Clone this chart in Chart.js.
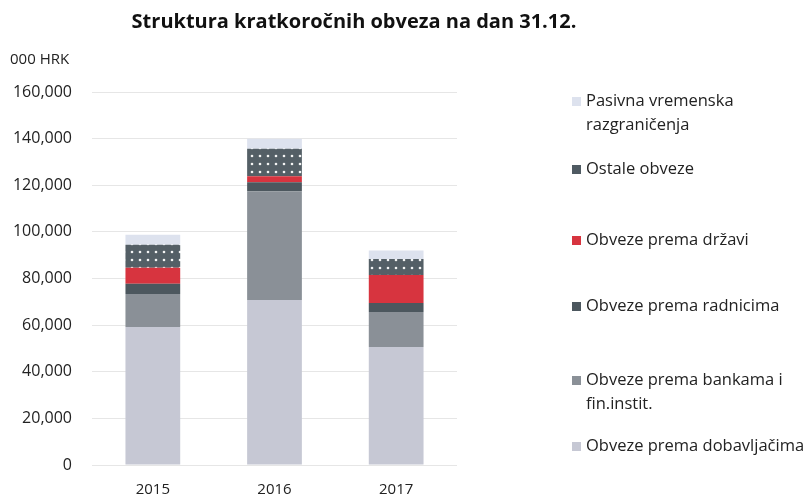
<!DOCTYPE html>
<html>
<head>
<meta charset="utf-8">
<script src="https://cdn.jsdelivr.net/npm/chart.js@4"></script>
<style>
  body { margin: 0; background: #fff; }
  #wrap { width: 805px; height: 496px; position: relative; }
</style>
</head>
<body>
<div id="wrap"><canvas id="chart" width="805" height="496"></canvas></div>
<script>
// values in 000 HRK
const years = ['2015', '2016', '2017'];
const dobavljaci = [59200, 70800, 50600];
const banke = [14200, 46600, 15000];
const radnici = [4300, 3900, 3900];
const drzava = [6900, 2600, 12000];
const ostale = [9900, 11800, 6900];
const pasivna = [4300, 4300, 3600];
const yTicks = [0, 20000, 40000, 60000, 80000, 100000, 120000, 140000, 160000];

const FONT = '"Open Sans", "Noto Sans", sans-serif';

// dark fill with white dots for "Ostale obveze"
function dotPattern() {
  const c = document.createElement('canvas');
  c.width = 8; c.height = 8;
  const g = c.getContext('2d');
  g.fillStyle = '#545f66';
  g.fillRect(0, 0, 8, 8);
  g.fillStyle = '#f4f4f4';
  g.beginPath();
  g.arc(4, 4, 1.3, 0, Math.PI * 2);
  g.fill();
  return g.createPattern(c, 'repeat');
}

const ctx = document.getElementById('chart').getContext('2d');
const dots = dotPattern();

const series = [
  { label: 'Obveze prema dobavljačima', data: dobavljaci, color: '#c6c8d4' },
  { label: ['Obveze prema bankama i', 'fin.instit.'], data: banke, color: '#8a9097' },
  { label: 'Obveze prema radnicima', data: radnici, color: '#4c575e' },
  { label: 'Obveze prema državi', data: drzava, color: '#d7343f' },
  { label: 'Ostale obveze', data: ostale, color: dots, swatch: '#4f5a62' },
  { label: ['Pasivna vremenska', 'razgraničenja'], data: pasivna, color: '#dde2ee' },
];

// legend rows, top to bottom (y = first text line centre)
const legendRows = [
  { i: 5, y: 101 },
  { i: 4, y: 169 },
  { i: 3, y: 240 },
  { i: 2, y: 306 },
  { i: 1, y: 380 },
  { i: 0, y: 446 },
];

const extras = {
  id: 'extras',
  afterDraw(chart) {
    const c = chart.ctx;
    c.save();
    c.fillStyle = '#111';
    c.font = 'bold 20px ' + FONT;
    c.textAlign = 'center';
    c.textBaseline = 'middle';
    c.fillText('Struktura kratkoročnih obveza na dan 31.12.', 354, 22);

    c.font = '15px ' + FONT;
    c.textAlign = 'left';
    c.fillStyle = '#222';
    c.fillText('000 HRK', 10, 60);

    legendRows.forEach(r => {
      const s = series[r.i];
      c.fillStyle = s.swatch || s.color;
      c.fillRect(572, r.y - 4, 9, 9);
      c.fillStyle = '#222';
      c.font = '16.5px ' + FONT;
      const lines = Array.isArray(s.label) ? s.label : [s.label];
      lines.forEach((t, k) => c.fillText(t, 586, r.y + k * 24));
    });
    c.restore();
  }
};

new Chart(ctx, {
  type: 'bar',
  data: {
    labels: years,
    datasets: series.map(s => ({
      label: Array.isArray(s.label) ? s.label.join(' ') : s.label,
      data: s.data,
      backgroundColor: s.color,
      borderWidth: 0,
      categoryPercentage: 0.45,
      barPercentage: 1,
    })),
  },
  options: {
    responsive: false,
    animation: false,
    layout: { padding: { top: 92, right: 348, left: 0, bottom: 0 } },
    plugins: { legend: { display: false }, tooltip: { enabled: false } },
    scales: {
      x: {
        stacked: true,
        grid: { display: false, drawTicks: false },
        border: { display: false },
        ticks: { color: '#222', font: { family: FONT, size: 15 }, padding: 16 },
        afterFit(scale) { scale.height = 31; },
      },
      y: {
        stacked: true,
        min: 0,
        max: 160000,
        afterBuildTicks(scale) { scale.ticks = yTicks.map(v => ({ value: v })); },
        grid: { color: '#e6e6e6', drawTicks: false },
        border: { display: false },
        ticks: {
          color: '#222',
          font: { family: FONT, size: 16 },
          padding: 20,
          callback: v => v.toLocaleString('en-US'),
        },
        afterFit(scale) { scale.width = 92; },
      },
    },
  },
  plugins: [extras],
});
</script>
</body>
</html>
